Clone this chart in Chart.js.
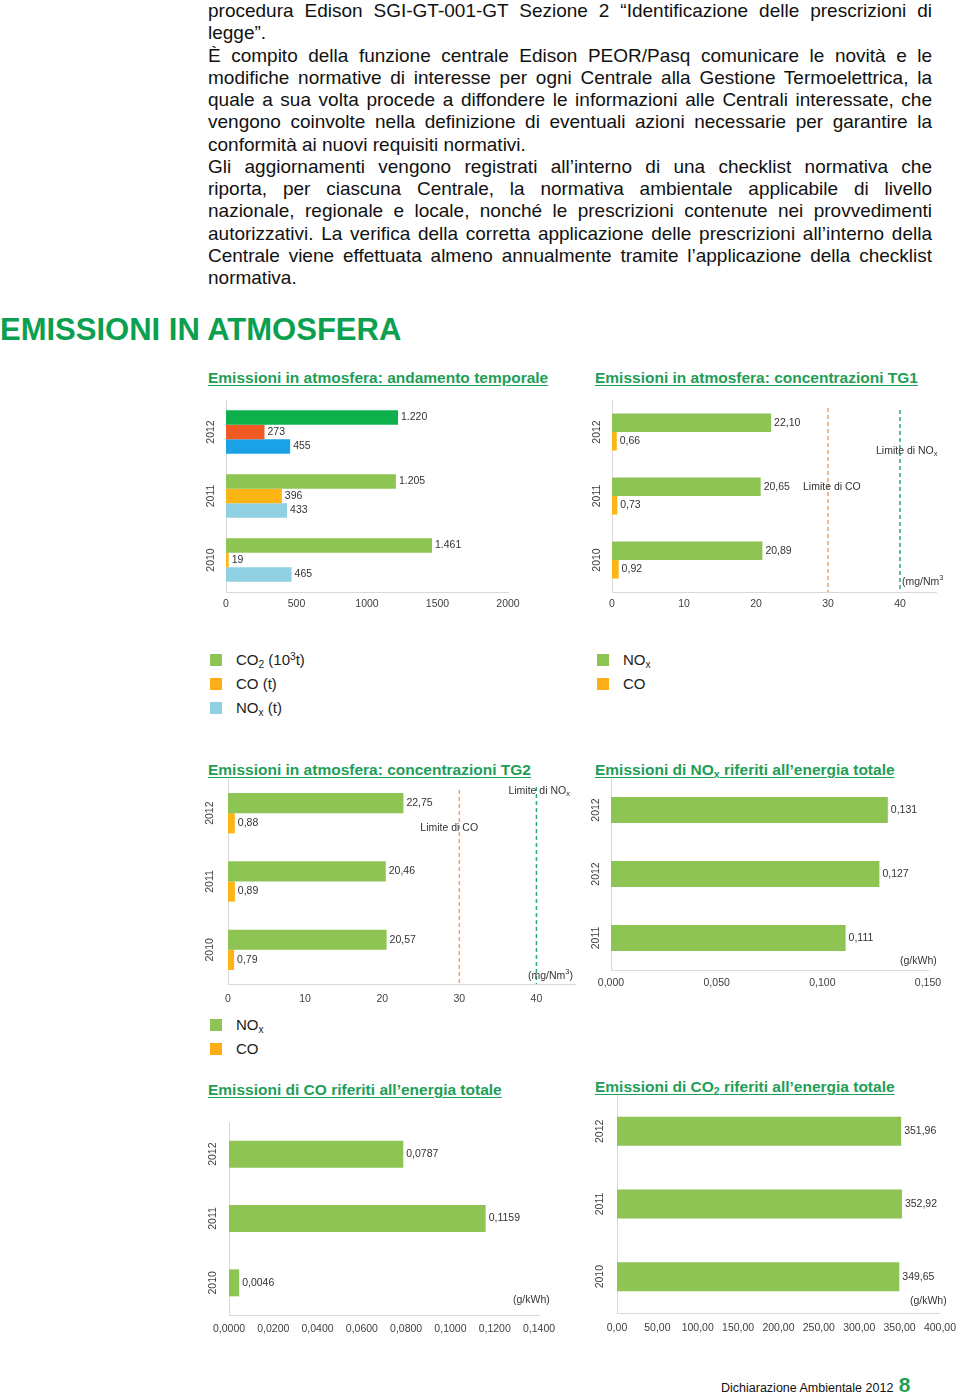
<!DOCTYPE html>
<html lang="it">
<head>
<meta charset="utf-8">
<title>Emissioni in atmosfera</title>
<script src="https://cdn.jsdelivr.net/npm/chart.js@4.4.0/dist/chart.umd.min.js"></script>
<style>
  html, body { margin: 0; padding: 0; background: #fff; }
  body { width: 960px; height: 1395px; position: relative; overflow: hidden;
         font-family: "Liberation Sans", Arial, sans-serif; color: #111; }
  .text { position: absolute; left: 208px; top: 0; width: 724px; font-size: 19px; line-height: 22.25px; }
  .text div { white-space: nowrap; }
  .text .j { text-align: justify; text-align-last: justify; white-space: normal; }
  h1 { position: absolute; left: 0; top: 314px; margin: 0; font-size: 31px; line-height: 31px;
       font-weight: bold; color: #0ba04f; }
  .title { position: absolute; font-size: 15.5px; line-height: 18px; font-weight: bold; color: #1e9e56;
           text-decoration: underline; text-underline-offset: 2px; white-space: nowrap; }
  .title sub, .lg sub { font-size: 0.68em; vertical-align: -0.25em; line-height: 0; }
  .lg sup { font-size: 0.68em; vertical-align: 0.5em; line-height: 0; }
  .lg { position: absolute; font-size: 15px; line-height: 18px; color: #222; white-space: nowrap; padding-left: 26px; }
  .lg i { position: absolute; left: 0; top: 3px; width: 12px; height: 12px; }
  .box { position: absolute; }
  .foot { position: absolute; left: 721px; top: 1374px; font-size: 12.5px; line-height: 21px; color: #111; white-space: nowrap; }
  .foot b { color: #1e9e56; font-size: 21px; line-height: 21px; margin-left: 2px; }
</style>
</head>
<body>

<div class="text">
  <div class="j">procedura Edison SGI-GT-001-GT Sezione 2 “Identificazione delle prescrizioni di</div>
  <div>legge”.</div>
  <div class="j">È compito della funzione centrale Edison PEOR/Pasq comunicare le novità e le</div>
  <div class="j">modifiche normative di interesse per ogni Centrale alla Gestione Termoelettrica, la</div>
  <div class="j">quale a sua volta procede a diffondere le informazioni alle Centrali interessate, che</div>
  <div class="j">vengono coinvolte nella definizione di eventuali azioni necessarie per garantire la</div>
  <div>conformità ai nuovi requisiti normativi.</div>
  <div class="j">Gli aggiornamenti vengono registrati all’interno di una checklist normativa che</div>
  <div class="j">riporta, per ciascuna Centrale, la normativa ambientale applicabile di livello</div>
  <div class="j">nazionale, regionale e locale, nonché le prescrizioni contenute nei provvedimenti</div>
  <div class="j">autorizzativi. La verifica della corretta applicazione delle prescrizioni all’interno della</div>
  <div class="j">Centrale viene effettuata almeno annualmente tramite l’applicazione della checklist</div>
  <div>normativa.</div>
</div>

<h1>EMISSIONI IN ATMOSFERA</h1>

<div class="title" style="left:208px;top:369px">Emissioni in atmosfera: andamento temporale</div>
<div class="title" style="left:595px;top:369px">Emissioni in atmosfera: concentrazioni TG1</div>
<div class="title" style="left:208px;top:761px">Emissioni in atmosfera: concentrazioni TG2</div>
<div class="title" style="left:595px;top:761px">Emissioni di NO<sub>x</sub> riferiti all’energia totale</div>
<div class="title" style="left:208px;top:1081px">Emissioni di CO riferiti all’energia totale</div>
<div class="title" style="left:595px;top:1078px">Emissioni di CO<sub>2</sub> riferiti all’energia totale</div>

<div class="box" id="c1"><canvas></canvas></div>
<div class="box" id="c2"><canvas></canvas></div>
<div class="box" id="c3"><canvas></canvas></div>
<div class="box" id="c4"><canvas></canvas></div>
<div class="box" id="c5"><canvas></canvas></div>
<div class="box" id="c6"><canvas></canvas></div>

<div class="lg" style="left:210px;top:651px"><i style="background:#8dc454"></i>CO<sub>2</sub> (10<sup>3</sup>t)</div>
<div class="lg" style="left:210px;top:675px"><i style="background:#fbae17"></i>CO (t)</div>
<div class="lg" style="left:210px;top:699px"><i style="background:#8fd0e2"></i>NO<sub>x</sub> (t)</div>

<div class="lg" style="left:597px;top:651px"><i style="background:#8dc454"></i>NO<sub>x</sub></div>
<div class="lg" style="left:597px;top:675px"><i style="background:#fbae17"></i>CO</div>

<div class="lg" style="left:210px;top:1016px"><i style="background:#8dc454"></i>NO<sub>x</sub></div>
<div class="lg" style="left:210px;top:1040px"><i style="background:#fbae17"></i>CO</div>

<div class="foot">Dichiarazione Ambientale 2012 <b>8</b></div>

<script>
// ---- dati ----
const years = ['2012', '2011', '2010'];
const noxEnergyYears = ['2012', '2012', '2011'];   // come riportato nel grafico

// andamento temporale
const co2Kt = [1220, 1205, 1461];
const coT = [273, 396, 19];
const noxT = [455, 433, 465];

// concentrazioni TG1 / TG2 (mg/Nm3)
const tg1Nox = [22.10, 20.65, 20.89];
const tg1Co = [0.66, 0.73, 0.92];
const tg2Nox = [22.75, 20.46, 20.57];
const tg2Co = [0.88, 0.89, 0.79];
const limiteCo = 30;
const limiteNox = 40;

// riferiti all'energia totale (g/kWh)
const noxEnergia = [0.131, 0.127, 0.111];
const coEnergia = [0.0787, 0.1159, 0.0046];
const co2Energia = [351.96, 352.92, 349.65];

// tick
const ticksTemporale = [0, 500, 1000, 1500, 2000];
const ticksConc = [0, 10, 20, 30, 40];
const ticksNoxEnergia = [0, 0.05, 0.10, 0.15];
const ticksCoEnergia = [0, 0.02, 0.04, 0.06, 0.08, 0.10, 0.12, 0.14];
const ticksCo2Energia = [0, 50, 100, 150, 200, 250, 300, 350, 400];

// ---- colori ----
const verde2012 = '#0db04b', verde = '#8dc454';
const rosso2012 = '#f15a24', arancio = '#fdb515';
const blu2012 = '#1aa1e6', azzurro = '#8fd0e2';
const coLimite = '#eba26e', noxLimite = '#2fa97a';

const FONT = '"Liberation Sans", Arial, sans-serif';
Chart.defaults.font.family = FONT;

function fmt(v, dec, group) {
  let [i, f] = v.toFixed(dec).split('.');
  if (group) i = i.replace(/\B(?=(\d{3})+(?!\d))/g, '.');
  return f ? i + ',' + f : i;
}

function drawRich(ctx, parts, x, y) {
  let cx = x;
  ctx.textAlign = 'left';
  ctx.textBaseline = 'middle';
  parts.forEach(p => {
    const small = !!p[1];
    ctx.font = (small ? 7.5 : 10.5) + 'px ' + FONT;
    const dy = p[1] === 'sub' ? 3 : p[1] === 'sup' ? -4 : 0;
    ctx.fillText(p[0], cx, y + dy);
    cx += ctx.measureText(p[0]).width;
  });
}

// etichette valori, anni ruotati, linee limite e unità
function extras(cfg) {
  return {
    id: 'extras',
    afterDatasetsDraw(chart) {
      const { ctx, chartArea, scales: { x, y } } = chart;
      ctx.save();
      (cfg.limits || []).forEach(l => {
        const px = x.getPixelForValue(l.value);
        ctx.save();
        ctx.strokeStyle = l.color;
        ctx.lineWidth = 1.5;
        ctx.setLineDash([4, 3]);
        ctx.beginPath();
        ctx.moveTo(px, chartArea.top + l.top);
        ctx.lineTo(px, chartArea.bottom);
        ctx.stroke();
        ctx.restore();
        ctx.fillStyle = '#333';
        drawRich(ctx, l.label, px + l.dx, chartArea.top + l.dy);
      });

      ctx.fillStyle = '#333';
      ctx.font = '10.5px ' + FONT;
      ctx.textBaseline = 'middle';
      ctx.textAlign = 'left';
      chart.data.datasets.forEach((ds, di) => {
        chart.getDatasetMeta(di).data.forEach((bar, i) => {
          ctx.fillText(fmt(ds.data[i], cfg.dec, cfg.group), bar.x + 3, bar.y);
        });
      });

      ctx.fillStyle = '#404040';
      chart.data.labels.forEach((lab, i) => {
        ctx.save();
        ctx.translate(chartArea.left - cfg.yearGap, y.getPixelForValue(i));
        ctx.rotate(-Math.PI / 2);
        ctx.textAlign = 'center';
        ctx.fillText(lab, 0, 0);
        ctx.restore();
      });

      if (cfg.unit) {
        ctx.fillStyle = '#333';
        drawRich(ctx, cfg.unit, chartArea.right + cfg.unitDx, chartArea.bottom + cfg.unitDy);
      }
      ctx.restore();
    }
  };
}

function barChart(id, box, labels, datasets, cfg) {
  const wrap = document.getElementById(id);
  wrap.style.left = box[0] + 'px';
  wrap.style.top = box[1] + 'px';
  wrap.style.width = box[2] + 'px';
  wrap.style.height = box[3] + 'px';
  new Chart(wrap.querySelector('canvas'), {
    type: 'bar',
    data: { labels, datasets },
    options: {
      indexAxis: 'y',
      responsive: true,
      maintainAspectRatio: false,
      animation: false,
      layout: { padding: { top: 6, right: cfg.padRight } },
      plugins: { legend: { display: false }, tooltip: { enabled: false } },
      scales: {
        x: {
          min: 0,
          max: cfg.max,
          afterBuildTicks: a => { a.ticks = cfg.ticks.map(v => ({ value: v })); },
          afterFit: s => { s.height = 26; },
          grid: { display: false, drawTicks: false },
          border: { color: '#d9d9d9' },
          ticks: {
            autoSkip: false, minRotation: 0, maxRotation: 0, padding: cfg.tickPad,
            color: '#404040', font: { size: 10.5 },
            callback: v => fmt(v, cfg.tickDec, false)
          }
        },
        y: {
          afterFit: s => { s.width = 32; },
          grid: { display: false, drawTicks: false },
          border: { color: '#d9d9d9' },
          ticks: { display: false }
        }
      }
    },
    plugins: [extras(cfg)]
  });
}

const limitiTG1 = [
  { value: limiteCo, color: coLimite, top: 8, dx: -25, dy: 87, label: [['Limite di CO']] },
  { value: limiteNox, color: noxLimite, top: 10, dx: -24, dy: 51, label: [['Limite di NO'], ['x', 'sub']] }
];
const limitiTG2 = [
  { value: limiteCo, color: coLimite, top: 11, dx: -39, dy: 49, label: [['Limite di CO']] },
  { value: limiteNox, color: noxLimite, top: 8, dx: -28, dy: 12, label: [['Limite di NO'], ['x', 'sub']] }
];

barChart('c1', [194, 394, 344, 224], years, [
  { data: co2Kt, backgroundColor: [verde2012, verde, verde], categoryPercentage: 0.68, barPercentage: 1 },
  { data: coT, backgroundColor: [rosso2012, arancio, arancio], categoryPercentage: 0.68, barPercentage: 1 },
  { data: noxT, backgroundColor: [blu2012, azzurro, azzurro], categoryPercentage: 0.68, barPercentage: 1 }
], { max: 2000, ticks: ticksTemporale, tickDec: 0, dec: 0, group: true, padRight: 30, yearGap: 15, tickPad: 6 });

barChart('c2', [580, 394, 380, 224], years, [
  { data: tg1Nox, backgroundColor: verde, categoryPercentage: 0.58, barPercentage: 1 },
  { data: tg1Co, backgroundColor: arancio, categoryPercentage: 0.58, barPercentage: 1 }
], { max: 45, ticks: ticksConc, tickDec: 0, dec: 2, padRight: 24, yearGap: 15, tickPad: 6,
     limits: limitiTG1, unit: [['(mg/Nm'], ['3', 'sup']], unitDx: -34, unitDy: -10 });

barChart('c3', [196, 773, 404, 237], years, [
  { data: tg2Nox, backgroundColor: verde, categoryPercentage: 0.59, barPercentage: 1 },
  { data: tg2Co, backgroundColor: arancio, categoryPercentage: 0.59, barPercentage: 1 }
], { max: 45, ticks: ticksConc, tickDec: 0, dec: 2, padRight: 25, yearGap: 18, tickPad: 9,
     limits: limitiTG2, unit: [['(mg/Nm'], ['3', 'sup'], [')']], unitDx: -47, unitDy: -8 });

barChart('c4', [579, 772, 374, 224], noxEnergyYears, [
  { data: noxEnergia, backgroundColor: verde, categoryPercentage: 0.41, barPercentage: 1 }
], { max: 0.15, ticks: ticksNoxEnergia, tickDec: 3, dec: 3, padRight: 25, yearGap: 15, tickPad: 7,
     unit: [['(g/kWh)']], unitDx: -28, unitDy: -9 });

barChart('c5', [197, 1116, 368, 225], years, [
  { data: coEnergia, backgroundColor: verde, categoryPercentage: 0.42, barPercentage: 1 }
], { max: 0.14, ticks: ticksCoEnergia, tickDec: 4, dec: 4, padRight: 26, yearGap: 16, tickPad: 8,
     unit: [['(g/kWh)']], unitDx: -26, unitDy: -15 });

barChart('c6', [585, 1089, 380, 250], years, [
  { data: co2Energia, backgroundColor: verde, categoryPercentage: 0.40, barPercentage: 1 }
], { max: 400, ticks: ticksCo2Energia, tickDec: 2, dec: 2, padRight: 16, yearGap: 17, tickPad: 9,
     unit: [['(g/kWh)']], unitDx: -30, unitDy: -12 });
</script>
</body>
</html>
